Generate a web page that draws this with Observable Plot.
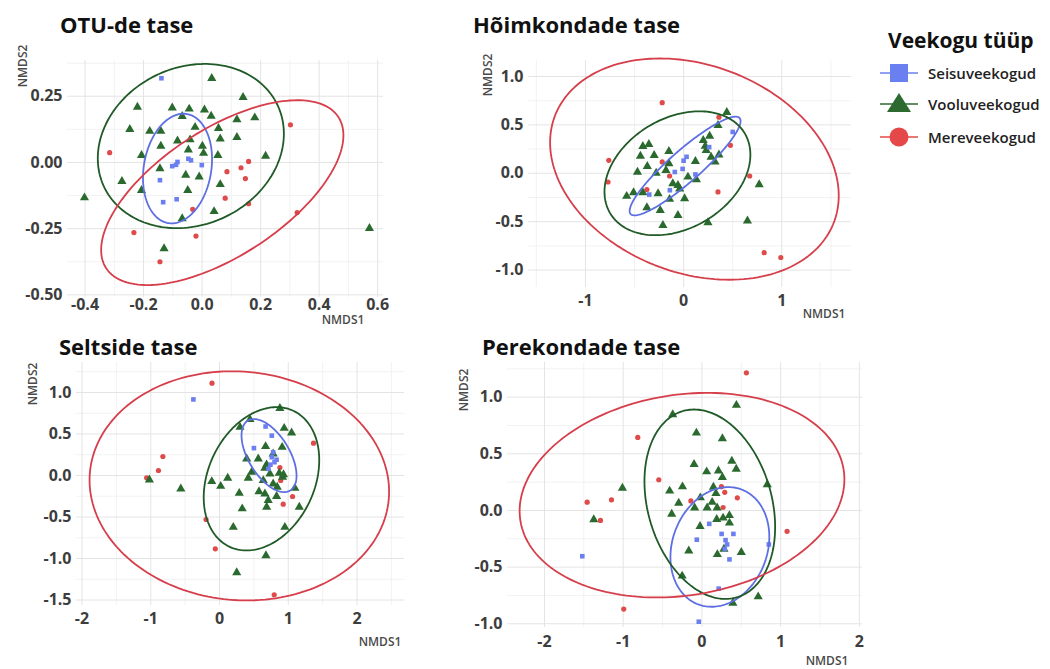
<!DOCTYPE html>
<html><head><meta charset="utf-8">
<script src="https://cdn.jsdelivr.net/npm/d3@7"></script>
<script src="https://cdn.jsdelivr.net/npm/@observablehq/plot@0.6"></script>
<style>
html,body{margin:0;padding:0;background:#fff;}
#wrap{position:relative;width:1050px;height:669px;overflow:hidden;background:#fff;font-family:"Open Sans",sans-serif;}
.panel{position:absolute;}
#overlay{position:absolute;left:0;top:0;pointer-events:none;}
</style></head><body><div id="wrap"></div>
<script>
// ---------- Data ----------
const groupNames = ["Seisuveekogud","Vooluveekogud","Mereveekogud"];
const pointColors = ["#6b7ff0","#2b6a2f","#df4a4a"];
const ellipseColors = ["#5d6fe3","#1f5a27","#d63e4b"];
const panelTitles = ["OTU-de tase","Hõimkondade tase","Seltside tase","Perekondade tase"];
const legendTitle = "Veekogu tüüp";

// Panel 1: OTU-de tase  [NMDS1, NMDS2]
const p1Seisu = [[-0.139,0.318],[-0.089,-0.009],[-0.102,-0.014],[-0.084,0.002],[-0.047,0.014],[-0.038,0.008],[-0.001,-0.010],[-0.144,-0.067],[-0.133,-0.150],[-0.087,-0.139]];
const p1Voolu = [[0.033,0.318],[0.14,0.246],[-0.221,0.209],[-0.102,0.206],[-0.044,0.202],[0.008,0.199],[0.031,0.175],[-0.068,0.174],[0.180,0.169],[0.119,0.162],[-0.247,0.125],[-0.179,0.118],[-0.141,0.118],[-0.024,0.133],[0.056,0.129],[0.119,0.095],[0.062,0.089],[-0.041,0.086],[-0.084,0.082],[-0.141,0.062],[0.001,0.062],[-0.047,0.048],[0.005,0.035],[-0.207,0.027],[0.217,0.024],[0.054,0.027],[-0.144,-0.023],[-0.056,-0.048],[-0.010,-0.054],[-0.274,-0.071],[0.062,-0.083],[-0.207,-0.105],[-0.049,-0.105],[0.041,-0.185],[-0.068,-0.212],[-0.130,-0.325],[-0.402,-0.133],[0.572,-0.249]];
const p1Mere = [[-0.316,0.037],[0.302,0.142],[0.159,0.004],[0.133,-0.020],[0.085,-0.035],[0.148,-0.061],[0.079,-0.135],[0.159,-0.156],[-0.032,-0.177],[-0.233,-0.265],[-0.021,-0.278],[-0.144,-0.375],[0.325,-0.189]];
// ellipse: [centre x, centre y, half-width x, half-height y, correlation]
const p1Ellipses = [[-0.084,-0.023,0.118,0.207,0.17],[-0.0385,0.062,0.318,0.31,0.15],[0.069,-0.114,0.414,0.349,0.62]];
const p1XTicks = [-0.4,-0.2,0,0.2,0.4,0.6];
const p1XLabels = ["-0.4","-0.2","0.0","0.2","0.4","0.6"];
const p1XMinor = [-0.3,-0.1,0.1,0.3,0.5];
const p1YTicks = [-0.5,-0.25,0,0.25];
const p1YLabels = ["-0.50","-0.25","0.00","0.25"];
const p1YMinor = [-0.375,-0.125,0.125,0.375];

// Panel 2: Hõimkondade tase
const p2Seisu = [[0.50,0.427],[0.26,0.27],[0.03,0.17],[0.0,0.13],[-0.01,0.045],[-0.09,0.013],[0.12,-0.012],[-0.14,-0.175],[-0.35,-0.22]];
const p2Voolu = [[0.44,0.63],[0.35,0.495],[0.265,0.385],[0.20,0.34],[0.22,0.28],[0.23,0.237],[0.36,0.19],[0.28,0.168],[0.32,0.117],[-0.415,0.278],[-0.354,0.30],[-0.44,0.178],[-0.30,0.186],[-0.15,0.227],[-0.37,0.072],[-0.47,0.013],[-0.15,0.10],[-0.28,0.003],[-0.18,0.031],[0.12,0.124],[0.044,-0.038],[0.13,-0.065],[-0.11,-0.107],[-0.058,-0.124],[-0.04,-0.16],[-0.58,-0.237],[-0.51,-0.20],[-0.415,-0.20],[-0.26,-0.21],[0.01,-0.262],[-0.143,-0.268],[-0.374,-0.354],[-0.238,-0.382],[-0.058,-0.434],[-0.211,-0.537],[0.248,-0.51],[0.77,-0.117],[0.65,-0.492]];
const p2Mere = [[-0.218,0.729],[-0.762,0.134],[-0.77,-0.09],[-0.218,0.117],[-0.143,-0.028],[-0.374,-0.168],[0.36,0.58],[0.477,0.289],[0.673,-0.028],[0.35,-0.193],[0.82,-0.82],[0.99,-0.87]];
const p2Ellipses = [[0.015,0.075,0.565,0.51,0.91],[-0.063,0.0,0.743,0.64,0.3],[0.11,0.043,1.47,1.143,-0.24]];
const p2XTicks = [-1,0,1];
const p2XLabels = ["-1","0","1"];
const p2XMinor = [-1.5,-0.5,0.5,1.5];
const p2YTicks = [-1,-0.5,0,0.5,1];
const p2YLabels = ["-1.0","-0.5","0.0","0.5","1.0"];
const p2YMinor = [-0.75,-0.25,0.25,0.75];

// Panel 3: Seltside tase
const p3Seisu = [[-0.38,0.916],[0.67,0.59],[0.76,0.48],[0.50,0.33],[0.78,0.28],[0.76,0.22],[0.80,0.16],[0.74,0.13],[0.71,0.08],[0.83,0.19]];
const p3Voolu = [[0.878,0.81],[0.443,0.675],[0.298,0.582],[0.94,0.57],[1.048,0.514],[0.67,0.35],[0.911,0.341],[0.395,0.2],[0.563,0.2],[0.78,0.26],[0.685,0.13],[0.467,0.04],[0.418,-0.032],[0.733,0.02],[0.868,0.028],[0.917,-0.02],[0.636,-0.06],[0.78,-0.1],[0.839,-0.14],[1.096,-0.153],[0.574,-0.193],[0.66,-0.22],[0.83,-0.25],[0.708,-0.30],[0.287,-0.213],[0.119,-0.032],[-0.113,-0.072],[0.017,-0.129],[-0.563,-0.16],[-1.02,-0.052],[0.33,-0.40],[0.685,-0.38],[1.16,-0.38],[0.20,-0.623],[0.95,-0.623],[0.675,-0.964],[0.25,-1.17],[0.66,0.09],[0.93,0.01]];
const p3Mere = [[-0.109,1.112],[-0.824,0.229],[-0.888,0.06],[-1.06,-0.028],[-0.196,-0.53],[-0.061,-0.883],[1.367,0.389],[0.878,0.095],[0.89,-0.06],[1.062,-0.253],[0.926,-0.345],[0.795,-1.437]];
const p3Ellipses = [[0.72,0.24,0.40,0.44,-0.55],[0.61,-0.04,0.84,0.863,0.26],[0.288,-0.125,2.178,1.38,-0.05]];
const p3XTicks = [-2,-1,0,1,2];
const p3XLabels = ["-2","-1","0","1","2"];
const p3XMinor = [-1.5,-0.5,0.5,1.5,2.5];
const p3YTicks = [-1.5,-1,-0.5,0,0.5,1];
const p3YLabels = ["-1.5","-1.0","-0.5","0.0","0.5","1.0"];
const p3YMinor = [-1.25,-0.75,-0.25,0.25,0.75,1.25];

// Panel 4: Perekondade tase
const p4Seisu = [[-1.52,-0.404],[-0.04,-0.982],[0.093,-0.118],[-0.065,-0.258],[0.25,-0.207],[0.40,-0.207],[0.30,-0.262],[0.32,-0.30],[0.29,-0.34],[0.35,-0.432],[0.213,-0.69],[0.85,-0.30]];
const p4Voolu = [[0.438,0.929],[-0.371,0.847],[-0.07,0.684],[0.26,0.634],[0.38,0.436],[0.436,0.366],[-0.10,0.407],[0.06,0.342],[0.21,0.35],[0.26,0.292],[0.83,0.228],[-1.01,0.198],[-0.41,0.172],[-0.247,0.21],[0.146,0.206],[0.178,0.15],[-0.02,0.113],[-0.295,0.065],[-0.093,0.024],[0.13,0.073],[0.066,0.024],[0.193,0.024],[-0.384,-0.032],[-1.374,-0.08],[0.188,-0.078],[0.269,-0.066],[0.349,-0.044],[0.35,-0.11],[-0.024,-0.14],[-0.167,-0.357],[0.28,-0.34],[0.196,-0.388],[0.50,-0.369],[-0.251,-0.578],[0.715,-0.761],[0.393,-0.818]];
const p4Mere = [[0.565,1.215],[-0.815,0.645],[-0.548,0.271],[-1.458,0.073],[-1.149,0.094],[-1.289,-0.088],[-0.14,0.084],[0.248,0.21],[0.29,0.16],[0.45,0.112],[0.269,0.026],[1.082,-0.184],[-0.993,-0.87]];
const p4Ellipses = [[0.228,-0.322,0.628,0.528,0.17],[0.10,0.055,0.83,0.836,-0.24],[-0.253,0.135,2.063,0.903,0.155]];
const p4XTicks = [-2,-1,0,1,2];
const p4XLabels = ["-2","-1","0","1","2"];
const p4XMinor = [-2.5,-1.5,-0.5,0.5,1.5];
const p4YTicks = [-1,-0.5,0,0.5,1];
const p4YLabels = ["-1.0","-0.5","0.0","0.5","1.0"];
const p4YMinor = [-0.75,-0.25,0.25,0.75,1.25];

// ---------- Layout (page pixels) ----------
const panels = [
  {frame:[67,60,383,297],  xDomain:[-0.46,0.62],  yDomain:[-0.51,0.385], xPad:1,
   seisu:p1Seisu, voolu:p1Voolu, mere:p1Mere, ells:p1Ellipses,
   xT:p1XTicks, xL:p1XLabels, xM:p1XMinor, yT:p1YTicks, yL:p1YLabels, yM:p1YMinor,
   title:[60,33], n1:[343,324], n2:[22,66]},
  {frame:[528,60,851,287], xDomain:[-1.58,1.71],  yDomain:[-1.18,1.165], xPad:7,
   seisu:p2Seisu, voolu:p2Voolu, mere:p2Mere, ells:p2Ellipses,
   xT:p2XTicks, xL:p2XLabels, xM:p2XMinor, yT:p2YTicks, yL:p2YLabels, yM:p2YMinor,
   title:[473,33], n1:[824,318], n2:[487,75]},
  {frame:[76,362,404,605], xDomain:[-2.08,2.69],  yDomain:[-1.566,1.361], xPad:7,
   seisu:p3Seisu, voolu:p3Voolu, mere:p3Mere, ells:p3Ellipses,
   xT:p3XTicks, xL:p3XLabels, xM:p3XMinor, yT:p3YTicks, yL:p3YLabels, yM:p3YMinor,
   title:[59,355], n1:[380,646], n2:[32,384]},
  {frame:[507,362,862,627], xDomain:[-2.47,2.04], yDomain:[-1.033,1.306], xPad:8,
   seisu:p4Seisu, voolu:p4Voolu, mere:p4Mere, ells:p4Ellipses,
   xT:p4XTicks, xL:p4XLabels, xM:p4XMinor, yT:p4YTicks, yL:p4YLabels, yM:p4YMinor,
   title:[482,355], n1:[827,665], n2:[463,390]}
];

function ellipseOutline(p, g) {
  const [cx, cy, sx, sy, rho] = p;
  const k = Math.sqrt(1 - rho * rho);
  return d3.range(0, 181).map(i => {
    const t = 2 * Math.PI * i / 180;
    return {x: cx + sx * Math.cos(t), y: cy + sy * (rho * Math.cos(t) + k * Math.sin(t)), g};
  });
}

const wrap = document.getElementById("wrap");
const mL = 50, mR = 8, mT = 6, mB = 34;
const symbols = ["square","triangle","circle"];
const radii = [2.6, 3.4, 2.6];

panels.forEach(cfg => {
  const [l, t, r, b] = cfg.frame;
  const within = (arr, dom) => arr.filter(v => v > Math.min(...dom) && v < Math.max(...dom));
  const sets = [cfg.seisu, cfg.voolu, cfg.mere];
  const marks = [
    Plot.ruleX(within(cfg.xM, cfg.xDomain), {stroke:"#f2f2f2", strokeWidth:1}),
    Plot.ruleY(within(cfg.yM, cfg.yDomain), {stroke:"#f2f2f2", strokeWidth:1}),
    Plot.ruleX(cfg.xT, {stroke:"#e4e4e4", strokeWidth:1}),
    Plot.ruleY(cfg.yT, {stroke:"#e4e4e4", strokeWidth:1})
  ];
  [2,1,0].forEach(i => {
    marks.push(Plot.dot(sets[i], {x: d => d[0], y: d => d[1], symbol: symbols[i], r: radii[i], fill: pointColors[i]}));
  });
  cfg.ells.forEach((e, i) => {
    marks.push(Plot.line(ellipseOutline(e, groupNames[i]), {x:"x", y:"y", stroke: ellipseColors[i], strokeWidth: 1.8}));
  });
  const chart = Plot.plot({
    width: (r - l) + mL + mR,
    height: (b - t) + mT + mB,
    marginLeft: mL, marginRight: mR, marginTop: mT, marginBottom: mB,
    x: {domain: cfg.xDomain, ticks: cfg.xT, tickFormat: d => cfg.xL[cfg.xT.indexOf(d)], tickSize: 0, tickPadding: cfg.xPad, label: null},
    y: {domain: cfg.yDomain, ticks: cfg.yT, tickFormat: d => cfg.yL[cfg.yT.indexOf(d)], tickSize: 0, tickPadding: 5, label: null},
    style: {fontFamily: "'Open Sans', sans-serif", fontSize: "16px", fontWeight: 700, color: "#3d3d3d", background: "transparent", overflow: "visible"},
    marks
  });
  const box = document.createElement("div");
  box.className = "panel";
  box.style.left = (l - mL) + "px";
  box.style.top = (t - mT) + "px";
  box.appendChild(chart);
  wrap.appendChild(box);
});

// ---------- Titles, axis names, legend ----------
const NS = "http://www.w3.org/2000/svg";
const ov = document.createElementNS(NS, "svg");
ov.setAttribute("id", "overlay");
ov.setAttribute("width", 1050);
ov.setAttribute("height", 669);
wrap.appendChild(ov);
function txt(x, y, s, attrs) {
  const e = document.createElementNS(NS, "text");
  e.setAttribute("x", x); e.setAttribute("y", y);
  for (const k in attrs) e.setAttribute(k, attrs[k]);
  e.textContent = s; ov.appendChild(e); return e;
}
panels.forEach((cfg, i) => {
  txt(cfg.title[0], cfg.title[1], panelTitles[i], {"font-family":"Open Sans", "font-size":22, "font-weight":700, fill:"#111"});
  txt(cfg.n1[0], cfg.n1[1], "NMDS1", {"font-family":"Open Sans", "font-size":12, "font-weight":600, fill:"#4a4a4a", "text-anchor":"middle"});
  const e = txt(0, 0, "NMDS2", {"font-family":"Open Sans", "font-size":12, "font-weight":600, fill:"#4a4a4a", "text-anchor":"middle", "dominant-baseline":"central"});
  e.setAttribute("transform", `translate(${cfg.n2[0]},${cfg.n2[1]}) rotate(-90)`);
});
txt(888, 48, legendTitle, {"font-family":"Open Sans", "font-size":21, "font-weight":700, fill:"#111"});
const legendRows = [73, 104, 137];
const legendColors = ["#6b80f0","#2d6a30","#e54848"];
legendRows.forEach((y, i) => {
  const line = document.createElementNS(NS, "line");
  line.setAttribute("x1", 880); line.setAttribute("x2", 918);
  line.setAttribute("y1", y); line.setAttribute("y2", y);
  line.setAttribute("stroke", legendColors[i]); line.setAttribute("stroke-width", 1.6);
  ov.appendChild(line);
  let s;
  if (i === 0) {
    s = document.createElementNS(NS, "rect");
    s.setAttribute("x", 890); s.setAttribute("y", y - 9); s.setAttribute("width", 18); s.setAttribute("height", 18);
  } else if (i === 1) {
    s = document.createElementNS(NS, "path");
    s.setAttribute("d", `M899,${y-11} L911,${y+8} L887,${y+8} Z`);
  } else {
    s = document.createElementNS(NS, "circle");
    s.setAttribute("cx", 899); s.setAttribute("cy", y); s.setAttribute("r", 9.5);
  }
  s.setAttribute("fill", legendColors[i]);
  ov.appendChild(s);
  txt(928, y + 5.5, groupNames[i], {"font-family":"Open Sans", "font-size":15, "font-weight":600, fill:"#222"});
});
</script></body></html>
